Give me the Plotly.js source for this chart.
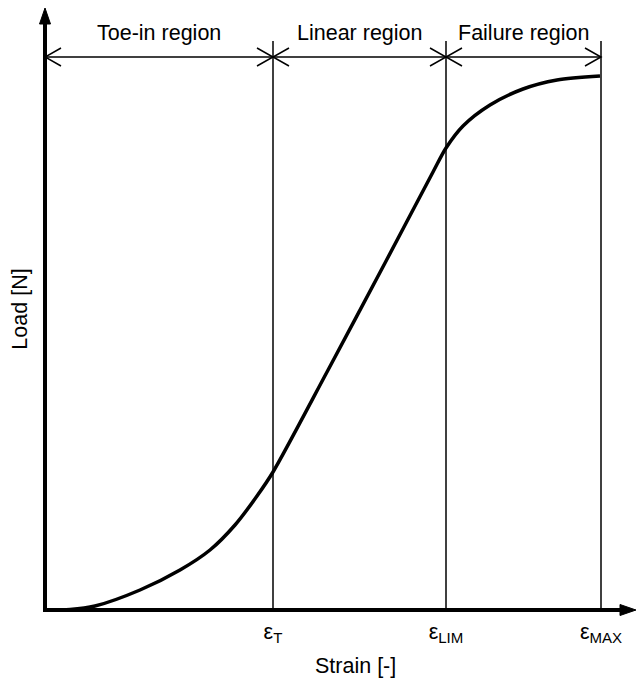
<!DOCTYPE html>
<html><head><meta charset="utf-8">
<script src="https://cdn.plot.ly/plotly-3.0.1.min.js"></script>
<style>html,body{margin:0;padding:0;background:#fff}#chart{width:636px;height:680px}</style>
</head><body><div id="chart"></div>
<script>
// Load-strain curve (arbitrary units)
const strain = [0, 25, 50, 95, 135, 165, 190, 212, 228, 282, 340, 388, 401, 418, 445, 478, 512, 555];
const load   = [0, 0.5, 4, 20, 40, 60, 85, 114, 138, 238, 347, 438, 462, 484, 505, 521, 530, 534];

// region boundaries on the strain axis
const boundaryStrain = [228, 401, 556];
const boundaryLabels = ['ε<sub>T</sub>', 'ε<sub>LIM</sub>', 'ε<sub>MAX</sub>'];

// regions
const regionNames = ['Toe-in region', 'Linear region', 'Failure region'];
const regionStart = [0, 228, 401];
const regionEnd   = [228, 401, 556];

const xTitle = 'Strain [-]';
const yTitle = 'Load [N]';

const xMax = 591, yMax = 602;
const dimY = 553, lineTop = 569, labelY = 577;
const headL = 16, headW = 9;
const FS = 21.5;

// paper-coordinate helpers (axis ranges start at 0)
const PX = d => d / xMax;
const PY = d => d / yMax;

const shapes = [];
const annotations = [];

// axis lines (paper refs so they are not clipped at the plot edge)
shapes.push({type:'line', xref:'paper', yref:'paper', x0:PX(0), x1:PX(xMax - 10), y0:0, y1:0,
             line:{color:'#000', width:4}});
shapes.push({type:'line', xref:'paper', yref:'paper', x0:0, x1:0, y0:PY(-2), y1:PY(yMax - 10),
             line:{color:'#000', width:4}});
// axis arrow heads
shapes.push({type:'path', xref:'paper', yref:'paper',
             path:`M${PX(-5.5)},${PY(yMax-16)} L0,${PY(yMax)} L${PX(5.5)},${PY(yMax-16)} Z`,
             fillcolor:'#000', line:{color:'#000', width:1}});
shapes.push({type:'path', xref:'paper', yref:'paper',
             path:`M${PX(xMax-16)},${PY(-5.5)} L${PX(xMax)},0 L${PX(xMax-16)},${PY(5.5)} Z`,
             fillcolor:'#000', line:{color:'#000', width:1}});

// vertical boundary lines
boundaryStrain.forEach(b => {
  shapes.push({type:'line', xref:'x', yref:'y', x0:b, x1:b, y0:0, y1:lineTop,
               line:{color:'#000', width:1.5}});
});

// dimension arrows with open heads
regionNames.forEach((name, i) => {
  const a = regionStart[i], b = regionEnd[i];
  shapes.push({type:'line', xref:'x', yref:'y', x0:a, x1:b, y0:dimY, y1:dimY,
               line:{color:'#000', width:1.5}});
  shapes.push({type:'path', xref:'x', yref:'y',
               path:`M${a+headL},${dimY+headW} L${a},${dimY} L${a+headL},${dimY-headW}`,
               line:{color:'#000', width:1.5}});
  shapes.push({type:'path', xref:'x', yref:'y',
               path:`M${b-headL},${dimY+headW} L${b},${dimY} L${b-headL},${dimY-headW}`,
               line:{color:'#000', width:1.5}});
  annotations.push({x:(a+b)/2, y:labelY, xref:'x', yref:'y', text:name, showarrow:false,
                    font:{size:FS, color:'#000'}, yanchor:'middle'});
});

// x axis title
annotations.push({x:310, y:-0.093, xref:'x', yref:'paper', text:xTitle, showarrow:false,
                  font:{size:FS, color:'#000'}, yanchor:'middle', xanchor:'center'});

const trace = {
  x: strain, y: load, type:'scatter', mode:'lines',
  line:{color:'#000', width:3.5, shape:'spline', smoothing:0.8},
  hoverinfo:'skip'
};

const layout = {
  width:636, height:680,
  margin:{l:45, r:0, t:8, b:70},
  paper_bgcolor:'#fff', plot_bgcolor:'#fff',
  font:{family:'"Liberation Sans", Arial, sans-serif', color:'#000', size:FS},
  showlegend:false,
  xaxis:{range:[0, xMax], showgrid:false, zeroline:false, showline:false,
         tickmode:'array', tickvals:boundaryStrain, ticktext:boundaryLabels,
         ticks:'', tickfont:{size:FS}, ticklabelstandoff:6, fixedrange:true},
  yaxis:{range:[0, yMax], showgrid:false, zeroline:false, showline:false,
         showticklabels:false, ticks:'', fixedrange:true,
         title:{text:yTitle, font:{size:FS}, standoff:10}},
  shapes: shapes,
  annotations: annotations
};

Plotly.newPlot('chart', [trace], layout, {displayModeBar:false, staticPlot:true});
</script>
</body></html>
